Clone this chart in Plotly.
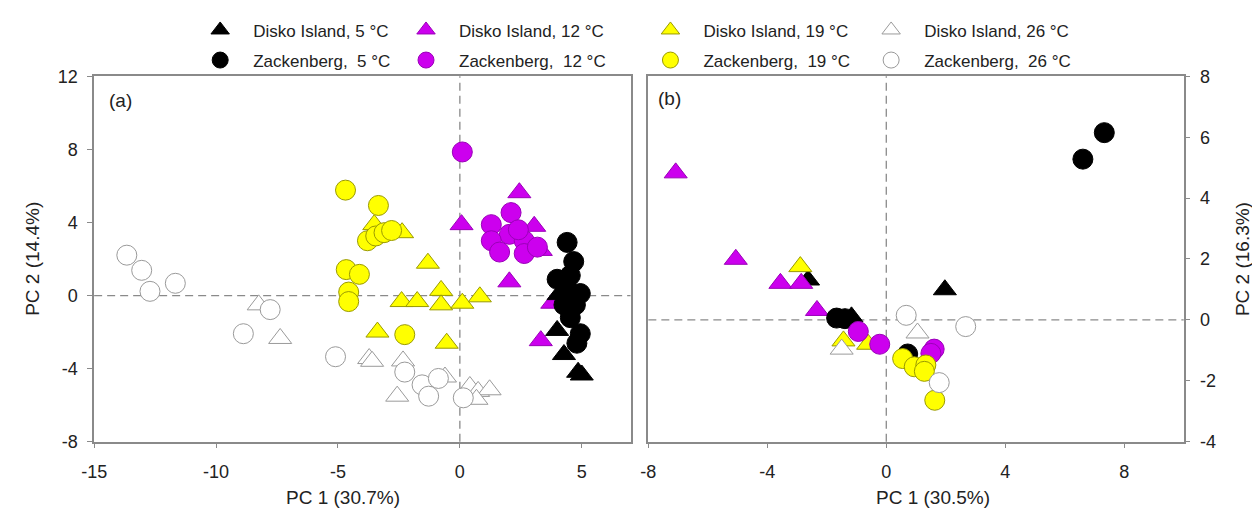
import plotly.graph_objects as go

# ---------------- data ----------------
# Panel (a)
a_disko5_x = [3.99, 4.27, 4.85, 5.00, 4.05]
a_disko5_y = [-1.91, -3.23, -4.20, -4.35, 0.05]
a_zack5_x = [4.40, 4.67, 3.99, 4.53, 4.40, 4.94, 4.27, 4.74, 4.53, 4.94, 4.80]
a_zack5_y = [2.91, 1.86, 0.89, 1.10, 0.37, 0.11, -0.51, -0.51, -1.21, -2.09, -2.61]
a_disko12_x = [0.07, 2.44, 3.05, 3.32, 2.03, 3.79, 3.32]
a_disko12_y = [3.88, 5.63, 3.79, 2.47, 0.75, -0.42, -2.47]
a_zack12_x = [0.10, 2.10, 1.29, 2.03, 1.29, 2.64, 1.63, 2.64, 3.18, 2.40]
a_zack12_y = [7.86, 4.54, 3.88, 3.35, 3.00, 3.00, 2.38, 2.30, 2.65, 3.60]
a_disko19_x = [-3.51, -2.37, -1.31, -2.39, -1.75, -0.77, -0.77, 0.10, 0.82, -3.38, -0.54]
a_disko19_y = [3.88, 3.44, 1.77, -0.33, -0.33, 0.28, -0.51, -0.42, -0.07, -2.00, -2.61]
a_zack19_x = [-4.69, -3.34, -3.79, -3.45, -3.11, -2.80, -4.66, -4.12, -4.56, -4.56, -2.26]
a_zack19_y = [5.77, 4.93, 3.00, 3.26, 3.44, 3.56, 1.42, 1.16, 0.19, -0.33, -2.14]
a_disko26_x = [-8.25, -7.37, -3.72, -3.60, -2.33, -2.57, -0.61, 0.41, 0.75, 1.22, 0.68]
a_disko26_y = [-0.51, -2.35, -3.45, -3.60, -3.58, -5.51, -4.46, -4.98, -5.25, -5.16, -5.68]
a_zack26_x = [-13.66, -13.05, -12.71, -11.67, -7.78, -8.88, -5.10, -2.26, -1.55, -0.88, -1.28, 0.14]
a_zack26_y = [2.21, 1.38, 0.23, 0.67, -0.77, -2.09, -3.35, -4.19, -4.89, -4.54, -5.51, -5.60]

# Panel (b)
b_disko5_x = [-2.63, -1.17, 1.97]
b_disko5_y = [1.31, 0.10, 0.99]
b_zack5_x = [7.33, 6.61, -1.67, -1.39, 0.72]
b_zack5_y = [6.15, 5.28, 0.06, 0.04, -1.12]
b_disko12_x = [-7.08, -5.06, -3.56, -2.86, -2.33]
b_disko12_y = [4.83, 1.99, 1.20, 1.20, 0.31]
b_zack12_x = [-0.94, -0.22, 1.61, 1.50]
b_zack12_y = [-0.38, -0.80, -0.96, -1.10]
b_disko19_x = [-2.89, -1.44, -0.61, 1.10]
b_disko19_y = [1.75, -0.69, -0.80, -1.60]
b_zack19_x = [0.55, 0.94, 1.33, 1.28, 1.63]
b_zack19_y = [-1.27, -1.54, -1.48, -1.69, -2.64]
b_disko26_x = [-1.50, 1.05]
b_disko26_y = [-0.96, -0.43]
b_zack26_x = [0.67, 2.67, 1.78]
b_zack26_y = [0.15, -0.22, -2.06]

a_xticks = [-15, -10, -5, 0, 5]
a_xlabels = ["-15", "-10", "-5", "0", "5"]
a_yticks = [-8, -4, 0, 4, 8, 12]
a_ylabels = ["-8", "-4", "0", "4", "8", "12"]
b_xticks = [-8, -4, 0, 4, 8]
b_xlabels = ["-8", "-4", "0", "4", "8"]
b_yticks = [-4, -2, 0, 2, 4, 6, 8]
b_ylabels = ["-4", "-2", "0", "2", "4", "6", "8"]

# ---------------- styling ----------------
FONT = "Liberation Sans, Arial, sans-serif"
TXT = "#222222"
AX = "#8a8a8a"
W, H = 1252, 518

styles = {
    "Disko Island, 5 °C": dict(symbol="triangle-up", color="#000000", line="#000000", legend="legend"),
    "Zackenberg,  5 °C": dict(symbol="circle", color="#000000", line="#000000", legend="legend"),
    "Disko Island, 12 °C": dict(symbol="triangle-up", color="#cc00ee", line="#9a00b8", legend="legend2"),
    "Zackenberg,  12 °C": dict(symbol="circle", color="#cc00ee", line="#9a00b8", legend="legend2"),
    "Disko Island, 19 °C": dict(symbol="triangle-up", color="#ffff00", line="#9a9a00", legend="legend3"),
    "Zackenberg,  19 °C": dict(symbol="circle", color="#ffff00", line="#9a9a00", legend="legend3"),
    "Disko Island, 26 °C": dict(symbol="triangle-up", color="#ffffff", line="#9a9a9a", legend="legend4"),
    "Zackenberg,  26 °C": dict(symbol="circle", color="#ffffff", line="#9a9a9a", legend="legend4"),
}
legend_rank = {n: (1 if n.startswith("Disko") else 2) for n in styles}

# drawing order (bottom to top)
order_a = [
    ("Disko Island, 26 °C", a_disko26_x, a_disko26_y),
    ("Zackenberg,  26 °C", a_zack26_x, a_zack26_y),
    ("Disko Island, 19 °C", a_disko19_x, a_disko19_y),
    ("Zackenberg,  19 °C", a_zack19_x, a_zack19_y),
    ("Disko Island, 12 °C", a_disko12_x, a_disko12_y),
    ("Zackenberg,  12 °C", a_zack12_x, a_zack12_y),
    ("Disko Island, 5 °C", a_disko5_x, a_disko5_y),
    ("Zackenberg,  5 °C", a_zack5_x, a_zack5_y),
]
order_b = [
    ("Disko Island, 5 °C", b_disko5_x, b_disko5_y),
    ("Disko Island, 12 °C", b_disko12_x, b_disko12_y),
    ("Disko Island, 19 °C", b_disko19_x, b_disko19_y),
    ("Disko Island, 26 °C", b_disko26_x, b_disko26_y),
    ("Zackenberg,  5 °C", b_zack5_x, b_zack5_y),
    ("Zackenberg,  12 °C", b_zack12_x, b_zack12_y),
    ("Zackenberg,  19 °C", b_zack19_x, b_zack19_y),
    ("Zackenberg,  26 °C", b_zack26_x, b_zack26_y),
]

fig = go.Figure()

def add(name, xs, ys, xa, ya, show):
    s = styles[name]
    fig.add_trace(go.Scatter(
        x=xs, y=ys, mode="markers", name=name,
        xaxis=xa, yaxis=ya,
        legendgroup=name, showlegend=show, legend=s["legend"], legendrank=legend_rank[name],
        marker=dict(symbol=s["symbol"], size=20, color=s["color"],
                    line=dict(color=s["line"], width=1)),
        hoverinfo="skip",
    ))

for name, xs, ys in order_a:
    add(name, xs, ys, "x", "y", True)
for name, xs, ys in order_b:
    add(name, xs, ys, "x2", "y2", False)

axis_common = dict(
    showgrid=False, zeroline=False, showline=True, linecolor=AX, linewidth=1.5,
    mirror=True, ticks="outside", ticklen=5, tickwidth=1, tickcolor=AX,
    tickfont=dict(family=FONT, size=18, color=TXT), tickmode="array",
)

Y0, Y1 = 1 - 449 / H, 1 - 69 / H

def leg(xc):
    return dict(orientation="v", x=(xc - 33) / W, y=1 - 2.5 / H, xanchor="left", yanchor="top",
                tracegroupgap=5, itemsizing="trace", itemwidth=56, borderwidth=0,
                font=dict(family=FONT, size=17, color=TXT), bgcolor="rgba(0,0,0,0)")

def title(text, x, y, angle=0):
    return dict(text=text, xref="paper", yref="paper", x=x / W, y=1 - y / H,
                xanchor="center", yanchor="middle", showarrow=False, textangle=angle,
                font=dict(family=FONT, size=19, color=TXT))

fig.update_layout(
    width=W, height=H,
    margin=dict(l=0, r=0, t=0, b=0),
    paper_bgcolor="white", plot_bgcolor="white",
    font=dict(family=FONT, size=17, color=TXT),
    xaxis=dict(domain=[82 / W, 624 / W], range=[-15, 7], tickvals=a_xticks, ticktext=a_xlabels,
               anchor="y", ticklabelstandoff=8, **axis_common),
    yaxis=dict(domain=[Y0, Y1], range=[-8, 12], tickvals=a_yticks, ticktext=a_ylabels,
               anchor="x", ticklabelstandoff=6, **axis_common),
    xaxis2=dict(domain=[642 / W, 1183 / W], range=[-8, 10], tickvals=b_xticks, ticktext=b_xlabels,
                anchor="y2", ticklabelstandoff=8, **axis_common),
    yaxis2=dict(domain=[Y0, Y1], range=[-4, 8], tickvals=b_yticks, ticktext=b_ylabels, side="right",
                anchor="x2", ticklabelstandoff=6, **axis_common),
    legend=leg(209), legend2=leg(417), legend3=leg(664), legend4=leg(887),
    annotations=[
        dict(text="(a)", xref="paper", yref="paper", x=95 / W, y=1 - 94 / H,
             xanchor="left", yanchor="middle", showarrow=False,
             font=dict(family=FONT, size=19, color=TXT)),
        dict(text="(b)", xref="paper", yref="paper", x=650 / W, y=1 - 92 / H,
             xanchor="left", yanchor="middle", showarrow=False,
             font=dict(family=FONT, size=19, color=TXT)),
        title("PC 1 (30.7%)", 333, 507),
        title("PC 1 (30.5%)", 930, 507),
        title("PC 2 (14.4%)", 19, 259, -90),
        title("PC 2 (16.3%)", 1242, 259, -90),
    ],
)

dash = dict(color="#8a8a8a", width=1.3, dash="8px,5px")
for xr, yr in (("x", "y"), ("x2", "y2")):
    fig.add_shape(type="line", xref=xr, yref=yr + " domain", x0=0, x1=0, y0=0, y1=1,
                  line=dash, layer="below")
    fig.add_shape(type="line", xref=xr + " domain", yref=yr, x0=0, x1=1, y0=0, y1=0,
                  line=dash, layer="below")

fig.write_html("out.html")
